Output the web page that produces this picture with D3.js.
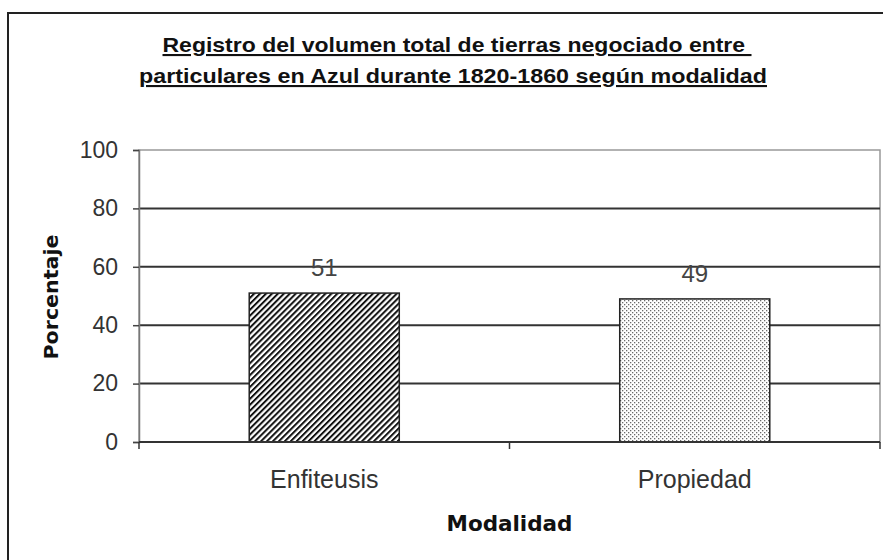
<!DOCTYPE html>
<html>
<head>
<meta charset="utf-8">
<script src="https://cdn.jsdelivr.net/npm/d3@7"></script>
<style>
  body { margin: 0; background: #fff; }
  svg { display: block; }
</style>
</head>
<body>
<div id="chart"></div>
<script>
var categories = ["Enfiteusis", "Propiedad"];
var values = [51, 49];
var yTicks = [0, 20, 40, 60, 80, 100];
var titleLines = [
    "Registro del volumen total de tierras negociado entre ",
    "particulares en Azul durante 1820-1860 según modalidad"
];
var yTitle = "Porcentaje";
var xTitle = "Modalidad";

(function () {
    const width = 883, height = 560;
    const plot = { left: 139, right: 880, top: 150, bottom: 442 };

    var svg = d3.select("#chart").append("svg")
        .attr("width", width)
        .attr("height", height);

    var defs = svg.append("defs");

    // diagonal hatching for the first bar
    var hatch = defs.append("pattern")
        .attr("id", "hatch")
        .attr("patternUnits", "userSpaceOnUse")
        .attr("width", 4.2)
        .attr("height", 4.2)
        .attr("patternTransform", "rotate(45)");
    hatch.append("rect").attr("width", 4.2).attr("height", 4.2).attr("fill", "#fff");
    hatch.append("rect").attr("width", 2).attr("height", 4.2).attr("fill", "#111");

    // fine dots for the second bar
    var dots = defs.append("pattern")
        .attr("id", "dots")
        .attr("patternUnits", "userSpaceOnUse")
        .attr("width", 4)
        .attr("height", 4);
    dots.append("rect").attr("width", 4).attr("height", 4).attr("fill", "#fff");
    dots.append("rect").attr("x", 0).attr("y", 0).attr("width", 1.3).attr("height", 1.3).attr("fill", "#6a6a6a");
    dots.append("rect").attr("x", 2).attr("y", 2).attr("width", 1.3).attr("height", 1.3).attr("fill", "#6a6a6a");

    var fills = ["url(#hatch)", "url(#dots)"];

    // outer chart frame
    svg.append("rect")
        .attr("x", 8).attr("y", 13)
        .attr("width", width + 20).attr("height", height + 20)
        .attr("fill", "none")
        .attr("stroke", "#222")
        .attr("stroke-width", 2);

    // title, stretched to the width of the original lines
    var titleLengths = [589, 628];
    var title = svg.append("text")
        .attr("text-anchor", "middle")
        .attr("font-family", "'Liberation Sans', Arial, sans-serif")
        .attr("font-weight", "bold")
        .attr("font-size", 21)
        .attr("fill", "#111")
        .attr("text-decoration", "underline");
    title.selectAll("tspan")
        .data(titleLines)
        .enter().append("tspan")
        .attr("x", function (d, i) { return i === 0 ? 457 : 453; })
        .attr("y", function (d, i) { return 52 + i * 31; })
        .attr("textLength", function (d, i) { return titleLengths[i]; })
        .attr("lengthAdjust", "spacingAndGlyphs")
        .text(function (d) { return d; });

    var x = d3.scaleBand()
        .domain(categories)
        .range([plot.left, plot.right])
        .paddingInner(0.595)
        .paddingOuter(0.2975);

    var y = d3.scaleLinear()
        .domain([0, 100])
        .range([plot.bottom, plot.top]);

    // plot area border (light gray)
    svg.append("rect")
        .attr("x", plot.left).attr("y", plot.top)
        .attr("width", plot.right - plot.left)
        .attr("height", plot.bottom - plot.top)
        .attr("fill", "#fff")
        .attr("stroke", "#999")
        .attr("stroke-width", 1.5);

    // gridlines
    svg.append("g")
        .selectAll("line")
        .data(yTicks.filter(function (d) { return d > 0 && d < 100; }))
        .enter().append("line")
        .attr("x1", plot.left).attr("x2", plot.right)
        .attr("y1", function (d) { return y(d); })
        .attr("y2", function (d) { return y(d); })
        .attr("stroke", "#333")
        .attr("stroke-width", 2);

    // y axis
    var yAxis = svg.append("g")
        .attr("transform", "translate(" + plot.left + ",0)")
        .call(d3.axisLeft(y).tickValues(yTicks).tickSize(6).tickPadding(15));
    yAxis.select(".domain").attr("stroke", "#777").attr("stroke-width", 1.5);
    yAxis.selectAll(".tick line").attr("stroke", "#444").attr("stroke-width", 1.5);
    yAxis.selectAll(".tick text")
        .attr("font-family", "'Liberation Sans', Arial, sans-serif")
        .attr("font-size", 23)
        .attr("fill", "#333");

    // bars
    svg.append("g")
        .selectAll("rect")
        .data(values)
        .enter().append("rect")
        .attr("x", function (d, i) { return x(categories[i]); })
        .attr("y", function (d) { return y(d); })
        .attr("width", x.bandwidth())
        .attr("height", function (d) { return y(0) - y(d); })
        .attr("fill", function (d, i) { return fills[i]; })
        .attr("stroke", "#222")
        .attr("stroke-width", 1.5);

    // value labels
    svg.append("g")
        .selectAll("text")
        .data(values)
        .enter().append("text")
        .attr("x", function (d, i) { return x(categories[i]) + x.bandwidth() / 2; })
        .attr("y", function (d) { return y(d) - 17; })
        .attr("text-anchor", "middle")
        .attr("font-family", "'Liberation Sans', Arial, sans-serif")
        .attr("font-size", 24)
        .attr("fill", "#444")
        .text(function (d) { return d; });

    // x axis line with ticks at band edges
    svg.append("line")
        .attr("x1", plot.left).attr("x2", plot.right)
        .attr("y1", plot.bottom).attr("y2", plot.bottom)
        .attr("stroke", "#333").attr("stroke-width", 2);
    var edges = [plot.left].concat(categories.map(function (c, i) {
        return plot.left + (i + 1) * (plot.right - plot.left) / categories.length;
    }));
    svg.append("g")
        .selectAll("line")
        .data(edges)
        .enter().append("line")
        .attr("x1", function (d) { return d; })
        .attr("x2", function (d) { return d; })
        .attr("y1", plot.bottom).attr("y2", plot.bottom + 7)
        .attr("stroke", "#333").attr("stroke-width", 1.5);

    // category labels
    svg.append("g")
        .selectAll("text")
        .data(categories)
        .enter().append("text")
        .attr("x", function (d) { return x(d) + x.bandwidth() / 2; })
        .attr("y", 488)
        .attr("text-anchor", "middle")
        .attr("font-family", "'Liberation Sans', Arial, sans-serif")
        .attr("font-size", 25)
        .attr("fill", "#333")
        .text(function (d) { return d; });

    // axis titles
    svg.append("text")
        .attr("x", (plot.left + plot.right) / 2)
        .attr("y", 531)
        .attr("text-anchor", "middle")
        .attr("font-family", "'DejaVu Sans', Verdana, sans-serif")
        .attr("font-weight", "bold")
        .attr("font-size", 21)
        .attr("textLength", 126)
        .attr("lengthAdjust", "spacingAndGlyphs")
        .attr("fill", "#111")
        .text(xTitle);

    svg.append("text")
        .attr("transform", "translate(58,297) rotate(-90)")
        .attr("text-anchor", "middle")
        .attr("font-family", "'DejaVu Sans', Verdana, sans-serif")
        .attr("font-weight", "bold")
        .attr("font-size", 20)
        .attr("textLength", 125)
        .attr("lengthAdjust", "spacingAndGlyphs")
        .attr("fill", "#111")
        .text(yTitle);
}());
</script>
</body>
</html>
